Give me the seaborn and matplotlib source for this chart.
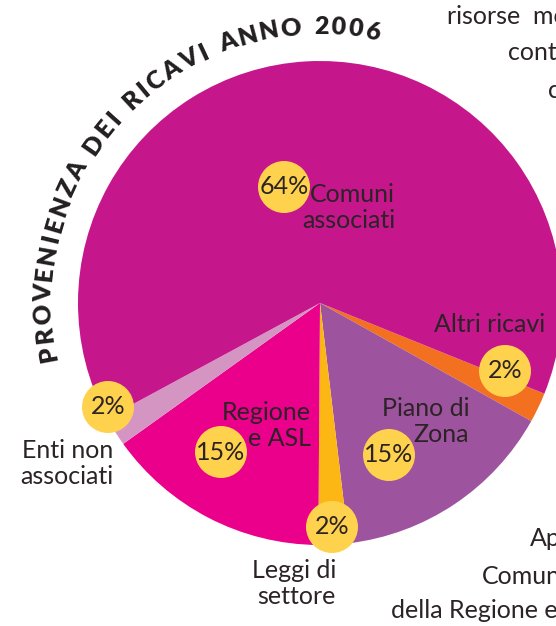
import matplotlib
matplotlib.use("Agg")
import numpy as np
import matplotlib.pyplot as plt
import seaborn as sns
from matplotlib.patches import Circle
from matplotlib.textpath import TextToPath
from matplotlib.font_manager import FontProperties

sns.set_style("white")
plt.rcParams['font.family'] = ['Lato', 'DejaVu Sans']

# data (clockwise from the "Altri ricavi" slice)
sources = ['Altri ricavi', 'Piano di Zona', 'Leggi di settore',
           'Regione e ASL', 'Enti non associati', 'Comuni associati']
shares = [2, 15, 2, 15, 2, 64]
share_labels = ['2%', '15%', '2%', '15%', '2%', '64%']
slice_colors = ['#F37021', '#9E539E', '#FDB714', '#EB008B', '#D595C2', '#C5168C']
title = 'PROVENIENZA DEI RICAVI ANNO 2006'

W, H = 556, 626
TXT = '#2B2326'
BADGE = '#FFD24D'

fig = plt.figure(figsize=(W / 100, H / 100), dpi=100)
ax = fig.add_axes([0, 0, 1, 1])

cx, cy, R = 320, H - 303, 242
ax.pie(shares, colors=slice_colors, startangle=-22, counterclock=False,
       center=(cx, cy), radius=R, wedgeprops=dict(linewidth=0))

# badge and label layout (image pixel coords, y from top)
badge_xy = [(505, 371), (389, 455), (332, 527), (221, 452), (108, 407), (284, 187)]
label_lines = [
    [('Altri ricavi', 545, 325)],
    [('Piano di', 469, 408), ('Zona', 469, 435)],
    [('Leggi di', 336, 570), ('settore', 336, 596)],
    [('Regione', 311, 412), ('e ASL', 311, 438)],
    [('Enti non', 113, 450), ('associati', 113, 476)],
    [('Comuni', 395, 194), ('associati', 395, 220)],
]
for (bx, by), pct, lines in zip(badge_xy, share_labels, label_lines):
    ax.add_patch(Circle((bx, H - by), 26, color=BADGE, lw=0, zorder=3))
    ax.text(bx, H - by, pct, ha='center', va='center', fontsize=18,
            color=TXT, zorder=4)
    for s, x, y in lines:
        ax.text(x, H - y, s, ha='right', va='center', fontsize=18,
                color=TXT, zorder=4)

# curved title along the outer rim
fp = FontProperties(family='Lato', weight='heavy', size=18)
ttp = TextToPath()
widths = []
for ch in title:
    w = ttp.get_text_width_height_descent(ch, fp, ismath=False)[0]
    widths.append(w if ch != ' ' else 5.0)
track = 3.5
pos = []
acc = 0.0
for w in widths:
    pos.append(acc + w / 2)
    acc += w + track
pos = np.array(pos)
a0, a1, rt = 190.5, 79.0, 276
angles = a0 + (pos - pos[0]) / (pos[-1] - pos[0]) * (a1 - a0)
for ch, a in zip(title, angles):
    if ch == ' ':
        continue
    t = np.deg2rad(a)
    ax.text(cx + rt * np.cos(t), cy + rt * np.sin(t), ch, fontproperties=fp,
            rotation=a - 90, rotation_mode='anchor', ha='center', va='center',
            color='#231F20')

# text of the neighbouring column, cut off by the page edge
side = [('risorse  monetarie', 447, 16), ('contributi', 508, 52), ('comuni', 548, 90),
        ('Apporti', 530, 539), ('Comuni', 482, 577), ('della Regione e', 391, 611)]
for s, x, y in side:
    ax.text(x, H - y, s, ha='left', va='center', fontsize=18, color=TXT)

ax.set_xlim(0, W)
ax.set_ylim(0, H)
ax.set_aspect('equal')
ax.axis('off')
fig.savefig('out.png', dpi=100)
